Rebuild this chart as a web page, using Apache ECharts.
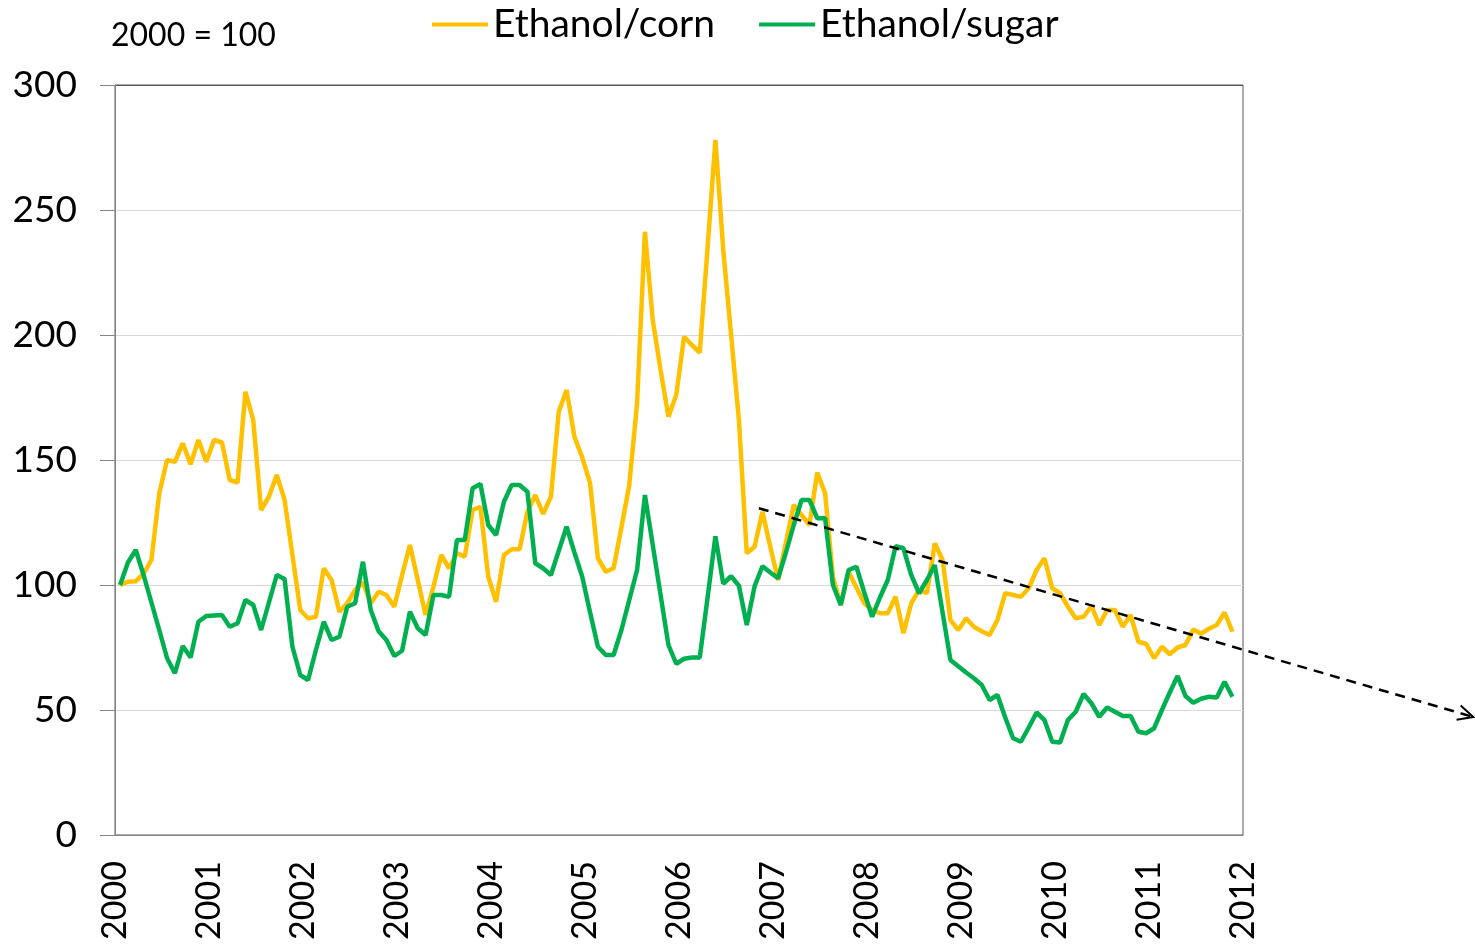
<!DOCTYPE html>
<html>
<head>
<meta charset="utf-8">
<title>Ethanol price ratios</title>
<script src="https://cdn.jsdelivr.net/npm/echarts@6.0.0/dist/echarts.min.js"></script>
<style>
    html, body { margin: 0; padding: 0; background: #fff; }
    #chart { width: 1475px; height: 944px; }
</style>
</head>
<body>
<div id="chart"></div>
<script>
const years = ['2000', '2001', '2002', '2003', '2004', '2005', '2006', '2007', '2008', '2009', '2010', '2011', '2012'];
const yTicks = [0, 50, 100, 150, 200, 250, 300];

// monthly index, 2000 = 100, Jan 2000 .. Nov 2011
const corn = [
    100, 101.3, 101.5, 104.5, 110, 136.7, 150, 149.3, 156.7, 148.3, 158, 149.3,
    158, 157, 142, 141, 177.3, 166, 130, 135.3, 144, 134, 112, 90,
    86.7, 87.3, 106.7, 102, 89.3, 92.7, 98, 101, 92.7, 97.3, 96, 91.3,
    104, 116, 102, 88, 99.3, 112, 106.7, 112.7, 111.3, 130, 131.3, 103.3,
    93.3, 112, 114.3, 114.3, 129.3, 136, 128.4, 135.3, 169.3, 178, 159.3, 151,
    140.7, 110.7, 105.3, 106.7, 123, 140, 172.7, 241.3, 206, 186, 167.3, 176,
    199.3, 196, 193, 235, 278, 234, 200, 166, 112.7, 115.3, 129.3, 115.3,
    102, 117, 132, 128, 124, 145, 136.7, 103.3, 92, 105.3, 99, 92.7,
    90, 88.7, 88.7, 95.3, 80.7, 92.7, 98, 96.7, 116.7, 110, 86, 82,
    86.7, 83.3, 81.5, 80, 86, 96.7, 96, 95.3, 98.7, 106, 110.7, 98.7,
    96.7, 91.3, 86.7, 87.3, 91.6, 84, 90, 90, 83.3, 88, 77.3, 76.4,
    70.7, 75.3, 72.3, 75, 76, 82.2, 80.5, 82.5, 84, 89, 81.3
];
const sugar = [
    100, 109, 114, 104, 93, 82, 70.7, 64.7, 75.6, 71, 85.3, 87.6,
    87.8, 88, 83.3, 84.7, 94, 92, 82, 93, 104, 102.4, 75.3, 64,
    62, 74, 85.3, 78, 79.3, 91.3, 92.7, 109.3, 90, 81.5, 78, 71.6,
    73.7, 89.3, 82.7, 80, 96, 96, 95.3, 118, 118, 138.7, 140.4, 124,
    120, 133.3, 140, 140, 137.3, 108.7, 106.7, 104, 113.7, 123.3, 113, 103.3,
    89, 75.3, 72, 72, 82, 94, 106, 136, 116, 96, 76, 68.5,
    70.5, 71, 71, 95, 119.5, 100.5, 103.5, 99.7, 84, 99.5, 107.5, 105,
    102.7, 113, 124, 134, 134, 126.7, 126.7, 100, 92, 106, 107.3, 97,
    87.3, 95, 102, 115.5, 114.7, 104, 96.7, 102, 108, 89, 70, 67.5,
    65, 62.7, 60, 54, 56, 47, 38.7, 37.3, 43, 49, 46, 37.3,
    37, 46, 49.3, 56.4, 52.7, 47.3, 51, 49.3, 47.6, 47.6, 41.3, 40.7,
    42.7, 50, 57, 63.6, 55.6, 52.9, 54.5, 55.3, 55, 61.3, 55.3
];

// hand drawn trend arrow, [year, index]
const trendFrom = [2006.85, 130.7];
const trendTo = [2014.45, 47.2];

const monthOffset = 0.65; // points sit a bit after the start of each month
const font = 'Lato';

const toPoints = values => values.map((v, i) => [2000 + (i + monthOffset) / 12, v]);

var chart = echarts.init(document.getElementById('chart'));

chart.setOption({
    animation: false,
    backgroundColor: '#fff',
    title: {
        text: '2000 = 100',
        left: 106,
        top: 15,
        textStyle: { fontFamily: font, fontSize: 32, fontWeight: 'normal', color: '#000' }
    },
    legend: {
        data: ['Ethanol/corn', 'Ethanol/sugar'],
        left: 432,
        top: 5,
        padding: 0,
        icon: 'rect',
        itemWidth: 56,
        itemHeight: 4,
        itemGap: 44,
        textStyle: { fontFamily: font, fontSize: 39, color: '#000' }
    },
    grid: {
        left: 115, right: 232, top: 85, bottom: 109,
        containLabel: false,
        outerBoundsMode: 'none',
        show: true,
        borderColor: '#595959',
        borderWidth: 1
    },
    xAxis: {
        type: 'value',
        min: 2000,
        max: 2012,
        interval: 1,
        axisLine: { lineStyle: { color: '#868686', width: 1 } },
        axisTick: { show: false },
        splitLine: { show: false },
        axisLabel: {
            rotate: 90,
            margin: 26,
            fontFamily: font,
            fontSize: 34,
            color: '#000',
            formatter: v => years[Math.round(v) - 2000]
        }
    },
    yAxis: {
        type: 'value',
        min: yTicks[0],
        max: yTicks[yTicks.length - 1],
        interval: yTicks[1] - yTicks[0],
        axisLine: { show: true, lineStyle: { color: '#868686', width: 1 } },
        axisTick: { show: true, inside: false, length: 15, lineStyle: { color: '#868686' } },
        splitLine: {
            show: true,
            lineStyle: {
                color: yTicks.map((t, i) => i === yTicks.length - 1 ? '#595959' : '#D9D9D9'),
                width: 1
            }
        },
        axisLabel: { margin: 38, fontFamily: font, fontSize: 37, color: '#000' }
    },
    series: [
        {
            name: 'Ethanol/corn',
            type: 'line',
            data: toPoints(corn),
            showSymbol: false,
            symbol: 'none',
            color: '#FFC000',
            lineStyle: { width: 4.5, color: '#FFC000' }
        },
        {
            name: 'Ethanol/sugar',
            type: 'line',
            data: toPoints(sugar),
            showSymbol: false,
            symbol: 'none',
            color: '#00B050',
            lineStyle: { width: 4.5, color: '#00B050' }
        }
    ]
});

// the dashed arrow runs past the plot area, so draw it as a graphic
const p1 = chart.convertToPixel({ gridIndex: 0 }, trendFrom);
const p2 = chart.convertToPixel({ gridIndex: 0 }, trendTo);
const ang = Math.atan2(p2[1] - p1[1], p2[0] - p1[0]);
const wing = da => [p2[0] - 17 * Math.cos(ang + da), p2[1] - 17 * Math.sin(ang + da)];

chart.setOption({
    graphic: [
        {
            type: 'line',
            z: 100,
            shape: { x1: p1[0], y1: p1[1], x2: p2[0], y2: p2[1] },
            style: { stroke: '#000', lineWidth: 2.5, lineDash: [10, 7] }
        },
        {
            type: 'polyline',
            z: 100,
            shape: { points: [wing(0.45), p2, wing(-0.45)] },
            style: { stroke: '#000', lineWidth: 2, fill: null }
        }
    ]
});
</script>
</body>
</html>
